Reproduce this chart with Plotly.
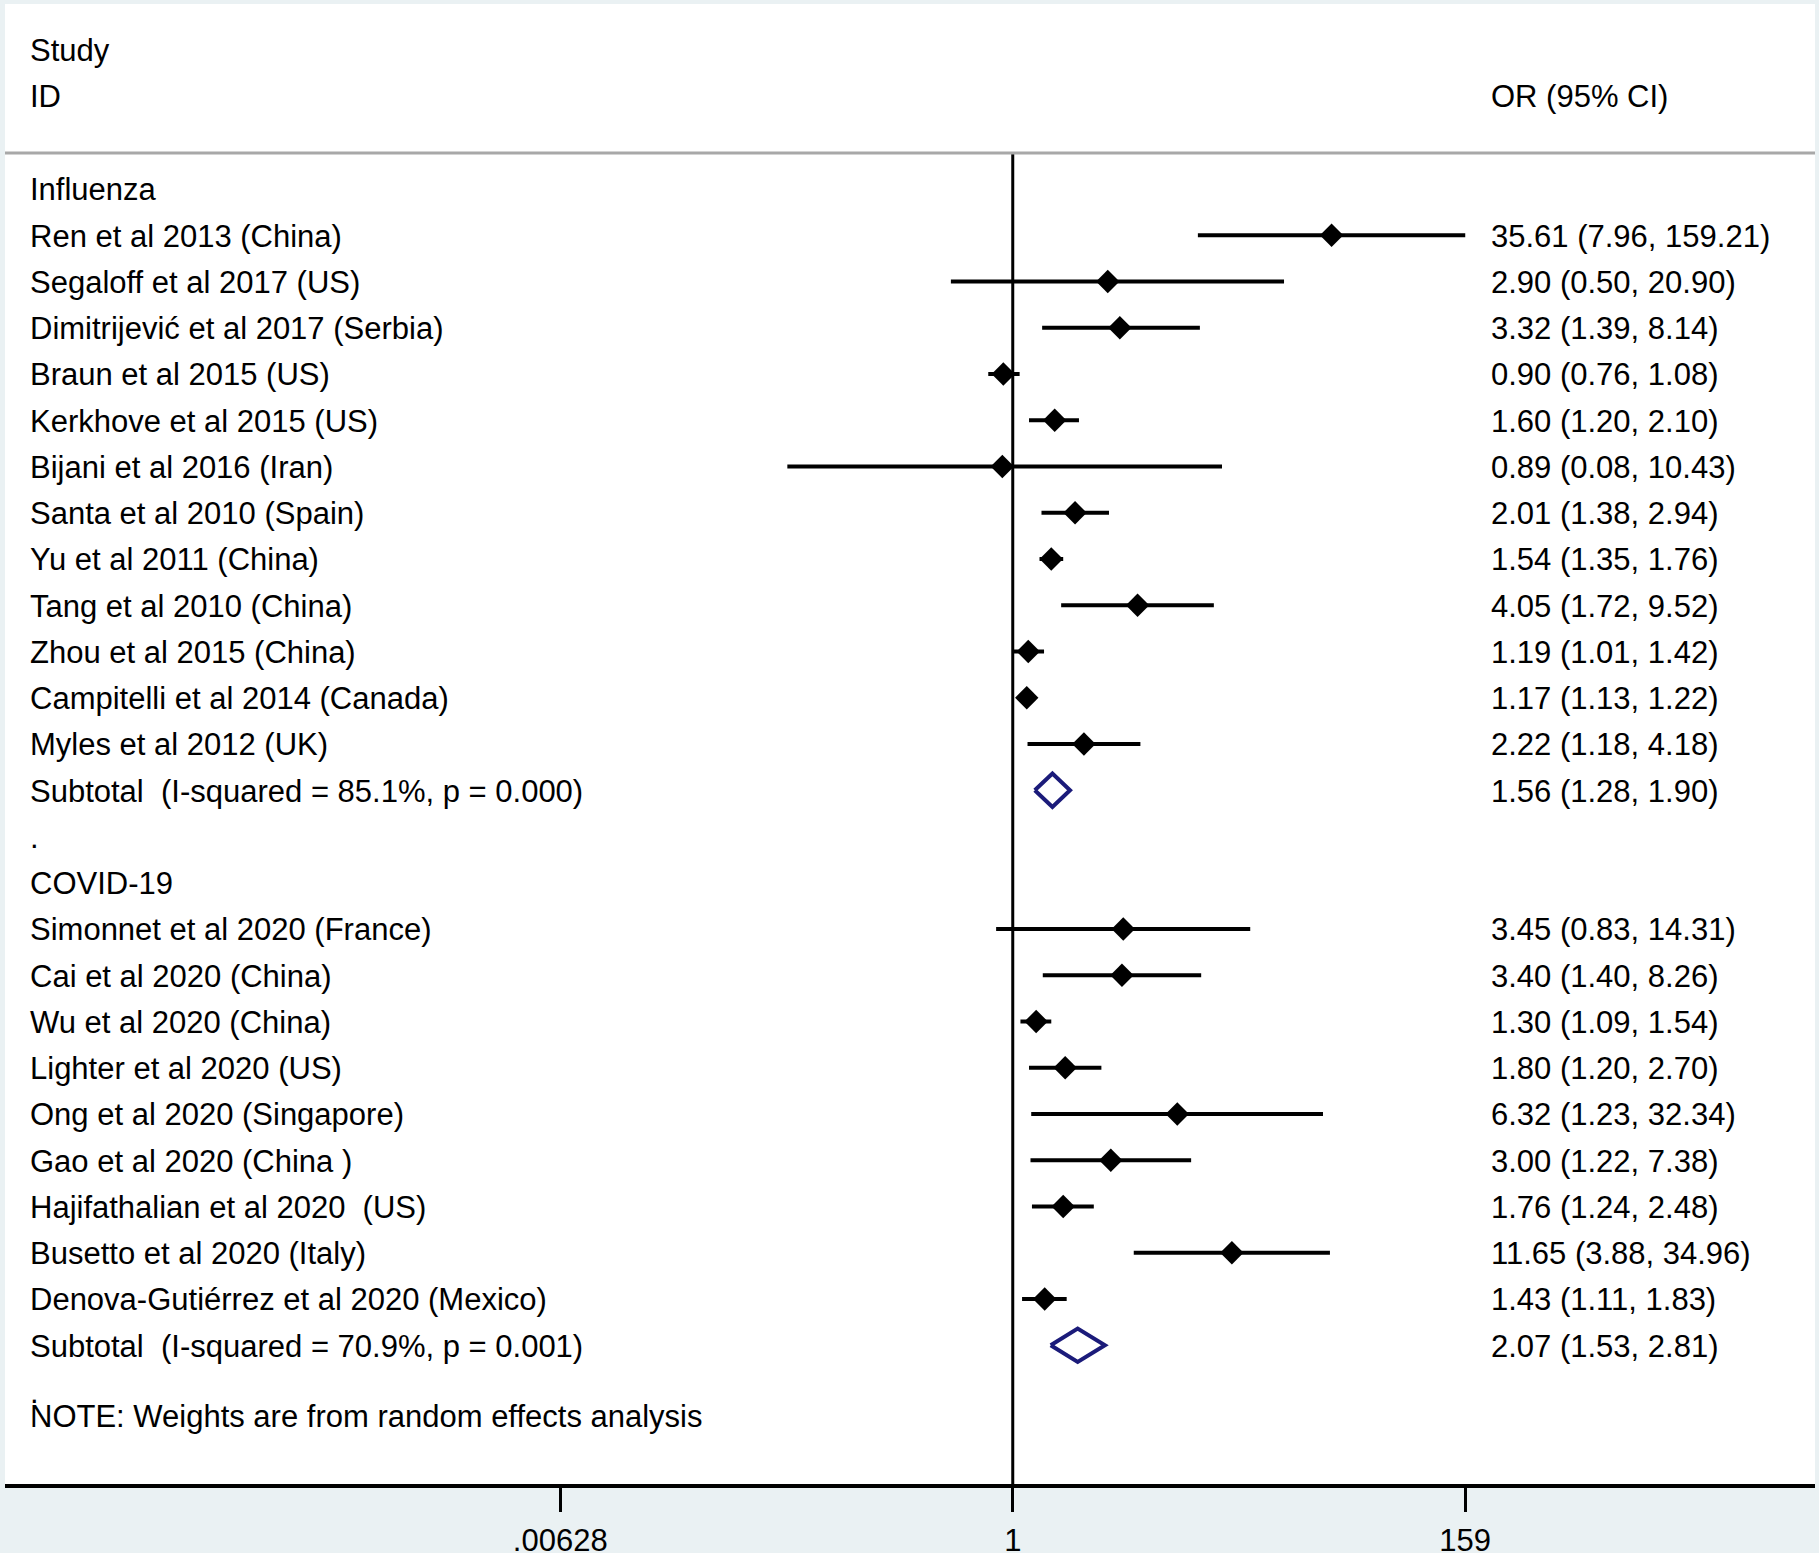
import plotly.graph_objects as go

# ---------------- data ----------------
flu_studies = ["Ren et al 2013 (China)", "Segaloff et al 2017 (US)", "Dimitrijević et al 2017 (Serbia)",
               "Braun et al 2015 (US)", "Kerkhove et al 2015 (US)", "Bijani et al 2016 (Iran)",
               "Santa et al 2010 (Spain)", "Yu et al 2011 (China)", "Tang et al 2010 (China)",
               "Zhou et al 2015 (China)", "Campitelli et al 2014 (Canada)", "Myles et al 2012 (UK)"]
flu_or = [35.61, 2.90, 3.32, 0.90, 1.60, 0.89, 2.01, 1.54, 4.05, 1.19, 1.17, 2.22]
flu_lo = [7.96, 0.50, 1.39, 0.76, 1.20, 0.08, 1.38, 1.35, 1.72, 1.01, 1.13, 1.18]
flu_hi = [159.21, 20.90, 8.14, 1.08, 2.10, 10.43, 2.94, 1.76, 9.52, 1.42, 1.22, 4.18]
flu_sub = (1.56, 1.28, 1.90)
flu_sub_label = "Subtotal  (I-squared = 85.1%, p = 0.000)"

cov_studies = ["Simonnet et al 2020 (France)", "Cai et al 2020 (China)", "Wu et al 2020 (China)",
               "Lighter et al 2020 (US)", "Ong et al 2020 (Singapore)", "Gao et al 2020 (China )",
               "Hajifathalian et al 2020  (US)", "Busetto et al 2020 (Italy)",
               "Denova-Gutiérrez et al 2020 (Mexico)"]
cov_or = [3.45, 3.40, 1.30, 1.80, 6.32, 3.00, 1.76, 11.65, 1.43]
cov_lo = [0.83, 1.40, 1.09, 1.20, 1.23, 1.22, 1.24, 3.88, 1.11]
cov_hi = [14.31, 8.26, 1.54, 2.70, 32.34, 7.38, 2.48, 34.96, 1.83]
cov_sub = (2.07, 1.53, 2.81)
cov_sub_label = "Subtotal  (I-squared = 70.9%, p = 0.001)"

group_names = ["Influenza", "COVID-19"]
tick_vals = [0.00628, 1, 159]
tick_text = [".00628", "1", "159"]
note_text = "NOTE: Weights are from random effects analysis"

# ---------------- layout of rows ----------------
FONT = "Liberation Sans, Arial, sans-serif"
FS = 31
groups = [(group_names[0], flu_studies, flu_or, flu_lo, flu_hi, flu_sub, flu_sub_label),
          (group_names[1], cov_studies, cov_or, cov_lo, cov_hi, cov_sub, cov_sub_label)]

left_labels, right_labels = [], []
pts_y, pts_x, ci_x, ci_y = [], [], [], []
subs = []
row = 0
for gname, st, o, lo, hi, sub, sublab in groups:
    left_labels.append((row, gname))
    row += 1
    for s, e, l, h in zip(st, o, lo, hi):
        left_labels.append((row, s))
        right_labels.append((row, f"{e:.2f} ({l:.2f}, {h:.2f})"))
        pts_x.append(e); pts_y.append(row)
        ci_x += [l, h, None]; ci_y += [row, row, None]
        row += 1
    left_labels.append((row, sublab))
    right_labels.append((row, f"{sub[0]:.2f} ({sub[1]:.2f}, {sub[2]:.2f})"))
    subs.append((row, sub))
    row += 1
    left_labels.append((row, "."))
    row += 1
note_row = row - 1 + 0.53
header_line_y = -0.78
bottom_row = 28

fig = go.Figure()
# reference line at 1
fig.add_trace(go.Scatter(x=[1, 1], y=[header_line_y, bottom_row], mode="lines",
                         line=dict(color="black", width=3), hoverinfo="skip", showlegend=False))
# CI lines
fig.add_trace(go.Scatter(x=ci_x, y=ci_y, mode="lines", line=dict(color="black", width=4),
                         hoverinfo="skip", showlegend=False))
# point estimates
fig.add_trace(go.Scatter(x=pts_x, y=pts_y, mode="markers",
                         marker=dict(symbol="diamond", size=18, color="black", line=dict(width=0)),
                         showlegend=False))
# subtotal diamonds
h = 0.36
for r, (e, l, hi_) in subs:
    fig.add_trace(go.Scatter(x=[l, e, hi_, e, l], y=[r, r - h, r, r + h, r], mode="lines",
                             line=dict(color="#1B1B7A", width=4), hoverinfo="skip", showlegend=False))

ann = []
xl = 0.0125
xr = 0.8197
def txt(x, y, t):
    return dict(x=x, xref="paper", y=y, yref="y", text=t, showarrow=False,
                xanchor="left", yanchor="middle", font=dict(family=FONT, size=FS, color="black"))
for r, t in left_labels:
    ann.append(txt(xl, r + 0.02, t))
for r, t in right_labels:
    ann.append(txt(xr, r + 0.02, t))
ann.append(txt(xl, note_row, note_text))
ann.append(txt(xl, -3, "Study"))
ann.append(txt(xl, -2, "ID"))
ann.append(txt(xr, -2, "OR (95% CI)"))

fig.update_layout(
    width=1819, height=1553,
    margin=dict(l=5, r=4, t=4, b=69),
    paper_bgcolor="#EAF1F3", plot_bgcolor="white",
    annotations=ann,
    shapes=[dict(type="line", xref="paper", x0=0, x1=1, yref="y", y0=header_line_y, y1=header_line_y,
                 line=dict(color="#A8A8A8", width=3))],
    xaxis=dict(type="log", range=[-4.904, 3.904], showgrid=False, zeroline=False,
               showline=True, linecolor="black", linewidth=4, automargin=False,
               ticks="outside", ticklen=24, tickwidth=3, tickcolor="black",
               tickvals=tick_vals, ticktext=tick_text, ticklabelstandoff=2,
               tickfont=dict(family=FONT, size=FS, color="black")),
    yaxis=dict(range=[bottom_row, -4], showgrid=False, zeroline=False, showticklabels=False,
               showline=False, ticks="", automargin=False),
    showlegend=False,
)

fig.write_html("out.html", config={"displayModeBar": False},
               post_script="document.body.style.margin='0';document.body.style.padding='0';")
